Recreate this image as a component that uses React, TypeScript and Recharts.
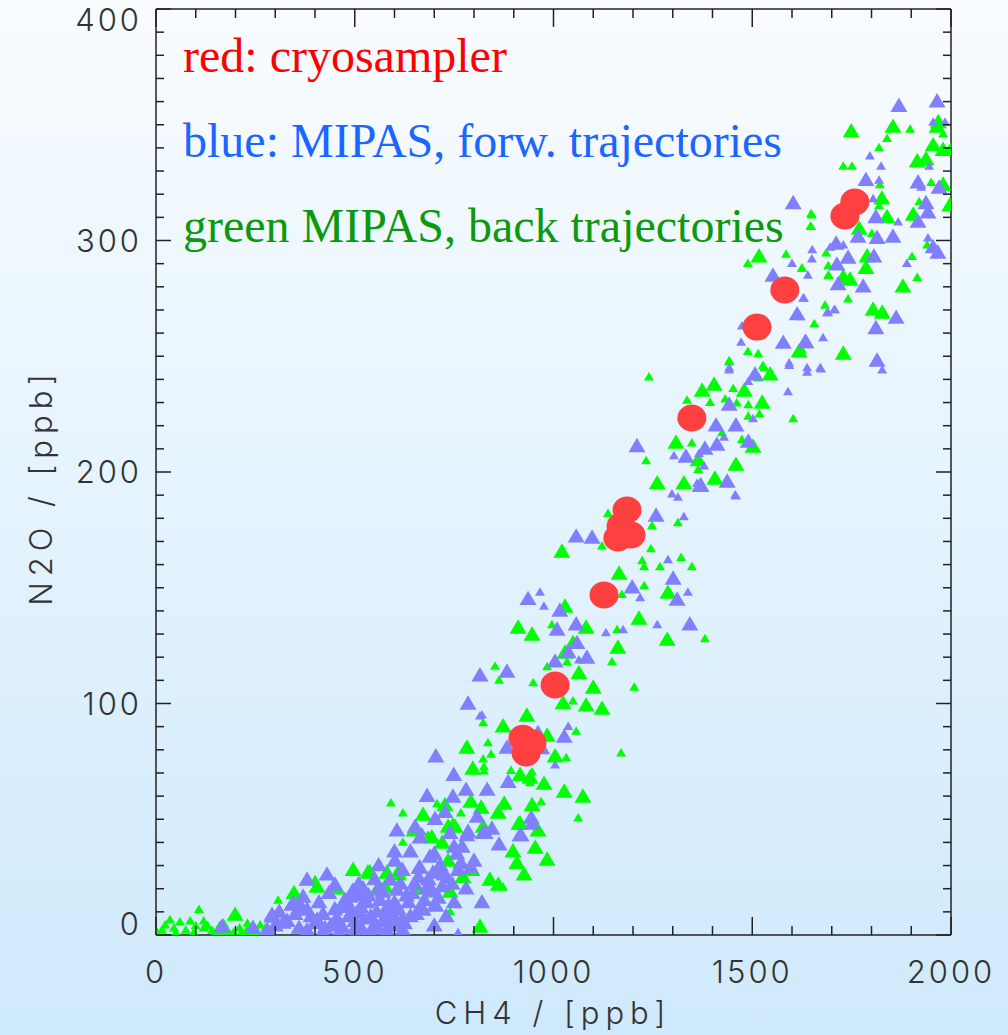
import React from 'react'
import { ScatterChart, Scatter, XAxis, YAxis } from 'recharts'

// CH4 (ppb), N2O (ppb) pairs
const cryosampler: [number, number][] = [
  [1758, 316.6], [1733, 310.6], [1582, 278.6], [1512, 262.6], [1348, 223.3],
  [1185, 183.6], [1170, 176.7], [1195, 172.8], [1162, 171.5], [1127, 146.9],
  [1004, 108], [923, 85], [946, 83], [931, 78.6],
]

const blueLarge: [number, number][] = [
  [1869, 358], [1965, 360], [1786, 326], [1917, 325], [1970, 322.7], [1937, 316], [1942, 312],
  [1811, 310], [1917, 308], [1766, 301.5], [1814, 301], [1854, 301.5], [1711, 298.5], [1741, 292.5],
  [1806, 293], [1955, 297], [1967, 294.6], [1713, 289.5], [1779, 280], [1716, 281], [1862, 266.5],
  [1811, 262], [1635, 256], [1814, 248],
  [1603, 316], [1552, 284.7], [1613, 268], [1633, 256], [1578, 255.7],
  [1507, 242], [1442, 229], [1409, 220], [1459, 220], [1490, 213], [1210, 211], [1411, 211.7],
  [1381, 210], [1333, 206.5], [1371, 194], [1437, 195.7],
  [1057, 172], [1097, 171.5], [1258, 181], [1369, 194], [1301, 153.8], [1311, 144.7], [1198, 150],
  [936, 145], [1016, 140], [1057, 134], [1009, 131.8], [1343, 134], [1037, 122], [1059, 126],
  [1084, 119.7], [1004, 118], [883, 113.6], [1027, 85.5], [883, 80.8],
  [815, 112], [785, 99.8], [704, 77], [749, 69], [886, 66], [833, 62.6], [780, 62.6], [682, 60],
  [747, 59.6], [702, 50], [727, 53], [606, 45], [808, 51], [845, 45.8], [944, 50.5], [916, 43],
  [828, 44], [782, 43],
  [652, 46.7], [664, 42], [740, 44], [785, 44.5], [823, 44], [918, 43], [946, 48], [863, 39],
  [689, 33.7], [601, 32], [757, 35], [767, 31], [792, 29], [662, 29], [709, 28], [732, 24.6],
  [430, 26], [450, 21.6], [380, 23.8], [342, 13], [292, 8.6], [370, 16.4], [488, 12], [513, 17],
  [564, 15], [606, 19.4], [619, 6.5], [664, 11.7], [704, 12.5], [820, 14], [576, 7.3], [244, 3],
  [345, 13.8], [292, 7.8], [166, 3.5], [380, 10.8], [488, 16.4], [521, 20], [571, 18.6], [664, 29],
  [697, 26.8], [672, 10.8], [702, 13], [606, 5.6], [621, 2], [589, 23.8], [405, 6.5], [455, 7.3],
  [320, 5.2], [556, 3.5], [506, 9.5],
  [400, 5], [420, 9], [440, 4], [470, 12], [500, 6], [530, 14], [540, 8], [580, 11], [600, 14],
  [630, 17], [650, 22], [680, 20], [720, 21], [470, 3], [520, 2], [590, 4], [640, 8], [360, 3],
  [280, 2], [510, 22], [550, 24], [620, 28], [700, 35], [750, 38],
  [300, 4], [310, 10], [330, 6], [350, 9], [365, 12], [390, 8], [410, 14], [425, 3], [435, 18],
  [450, 11], [460, 5], [475, 15], [485, 8], [495, 19], [505, 4], [515, 12], [525, 7], [535, 17],
  [545, 3], [555, 10], [560, 20], [570, 6], [585, 13], [595, 9], [610, 11], [615, 22], [625, 5],
  [635, 14], [645, 18], [655, 9], [660, 25], [675, 15], [685, 24], [695, 19], [710, 16], [715, 30],
  [725, 26], [745, 22], [760, 28], [770, 38], [380, 2], [420, 1], [460, 1], [500, 1], [540, 1],
  [580, 2], [700, 4], [730, 8], [750, 14], [780, 20], [800, 32], [640, 36], [600, 36], [560, 30],
]

const blueSmall: [number, number][] = [
  [1955, 351], [1985, 351], [1796, 336.5], [1824, 332], [1945, 332], [1819, 326], [1925, 323],
  [1804, 318], [1867, 308], [1729, 298], [1942, 301], [1651, 296], [1650, 292], [1889, 290],
  [1640, 285], [1691, 268.7], [1706, 270], [1630, 275], [1620, 267], [1678, 258], [1827, 244],
  [1638, 243], [1673, 244.5],
  [1696, 297], [1600, 290], [1628, 275], [1688, 268.7], [1708, 270], [1474, 263], [1472, 256],
  [1593, 247], [1638, 245], [1671, 245], [1442, 245],
  [1442, 244], [1490, 239], [1593, 246], [1590, 234.6], [1502, 223], [1429, 215], [1303, 207],
  [1366, 208], [1379, 202.6], [1361, 195], [1298, 190.5], [1313, 189], [1459, 189.6],
  [1457, 190], [1328, 180.6], [1288, 162], [1338, 148], [1218, 145.6], [966, 148], [976, 142],
  [1132, 130.5], [1175, 131.8], [1261, 134], [1064, 118.8], [820, 111.5], [1037, 90], [961, 88.6],
  [979, 79.5], [1004, 73.4], [820, 95],
  [815, 94.6], [669, 44.5], [760, 1],
]

const greenLarge: [number, number][] = [
  [1749, 347], [1854, 349], [1965, 349], [1968, 351], [1980, 339], [1915, 334], [1937, 335],
  [1826, 318], [1839, 310], [1905, 311], [1769, 305], [1789, 293], [1786, 288], [1746, 283],
  [1729, 284], [1879, 280], [1804, 270], [1827, 268.7], [1729, 251], [1955, 341], [1980, 324],
  [1997, 315], [2000, 339],
  [1517, 293], [1618, 252],
  [1404, 237.6], [1374, 235], [1480, 235], [1525, 229.8], [1545, 242], [1308, 212.5], [1502, 210.8],
  [1459, 203], [1364, 205], [1261, 195], [1328, 195], [1406, 197],
  [1021, 165.5], [1165, 156], [1288, 147.7], [1215, 136.5], [1286, 127.4], [1029, 141.7],
  [946, 129.6], [911, 132.6], [1082, 132.6], [1162, 124], [1049, 126], [1029, 121.8], [1064, 113],
  [1024, 100], [1100, 106.7], [1122, 97.6], [1082, 99], [933, 94.6], [873, 90], [984, 86],
  [1004, 77], [941, 67.8], [916, 69],
  [782, 80.8], [797, 71.7], [976, 65.2], [1027, 61.8], [1074, 59.6], [946, 56], [876, 56.6],
  [861, 52.7], [818, 54.9], [792, 57.5], [727, 56], [672, 51.8], [649, 45], [752, 46.7],
  [823, 46.7], [916, 48],
  [913, 48], [961, 45], [954, 37.6], [898, 36], [908, 31], [926, 26], [984, 32.4], [861, 21.6],
  [840, 23.8], [772, 25], [795, 28], [735, 32], [694, 42], [720, 39.7], [735, 46.7], [538, 27],
  [496, 28], [581, 26.8], [609, 26.8], [689, 18.6], [740, 18.6], [657, 20], [556, 19.4],
  [405, 20.7], [455, 20], [815, 3.5],
  [199, 8.6], [347, 18], [533, 26.8], [576, 20.7], [609, 26], [170, 1], [230, 1],
]

const greenSmall: [number, number][] = [
  [1897, 348], [1839, 344], [1980, 346], [1819, 340], [1729, 332], [1751, 332], [1821, 324],
  [1950, 325], [1819, 315], [1920, 316.7], [1801, 303], [1650, 311], [1648, 306], [1686, 294.6],
  [1691, 285], [1915, 284], [1741, 274.7], [1683, 272], [1656, 264], [1625, 252.7], [1902, 293],
  [1940, 298], [1625, 288],
  [1648, 311.5], [1646, 306], [1489, 290], [1585, 294], [1625, 288], [1691, 289], [1693, 284.7],
  [1489, 252], [1515, 251], [1442, 248], [1530, 245],
  [1442, 247.5], [1527, 246], [1515, 240.6], [1240, 241], [1452, 236], [1336, 231], [1394, 230],
  [1432, 231.5], [1461, 229.8], [1490, 229], [1518, 225], [1490, 224], [1603, 223], [1348, 212.5],
  [1424, 216.9], [1474, 214], [1233, 204.8], [1364, 201],
  [1313, 178], [1348, 159], [1381, 127.9],
  [1137, 182], [1248, 176.7], [1122, 168], [1245, 166.8], [1223, 161.6], [1228, 159], [1268, 159],
  [1321, 163], [1228, 150.8], [1172, 147], [1193, 150], [1160, 131.8], [1147, 118], [1034, 118],
  [984, 115.8], [949, 108.9], [853, 116], [863, 110], [1049, 101], [1203, 107], [823, 91.6],
  [835, 83], [843, 78], [1057, 88], [1032, 76.5], [1170, 78.6], [893, 71], [825, 72.6], [996, 134],
  [823, 76], [825, 70.8], [946, 70.4], [941, 65.7], [1062, 50.5], [969, 57.5], [767, 52.7],
  [747, 48.8], [707, 56.6], [621, 52.7], [591, 57], [684, 43], [961, 45],
  [621, 40], [350, 15], [307, 15], [375, 23], [740, 10], [873, 20.7],
  [108, 11], [400, 23.8], [35, 6.5], [60, 5.6], [86, 6], [23, 4.3], [141, 2], [262, 4.3], [3, 1.3],
  [45, 3], [75, 2], [100, 4], [120, 3], [160, 4], [180, 2], [210, 3], [230, 5], [120, 6],
  [15, 2], [50, 1], [95, 1], [130, 4], [150, 1], [170, 5], [195, 1], [215, 1], [240, 2], [255, 1],
  [275, 3], [290, 1],
]

const xTicks = Array.from({ length: 21 }, (_, i) => i * 100)
const yTicks = Array.from({ length: 41 }, (_, i) => i * 10)

const toPoints = (arr: [number, number][]) => arr.map(([x, y]) => ({ x, y }))

const tickFont = { fontFamily: 'Inter, "DejaVu Sans", sans-serif', fontWeight: 300, fontSize: 31, letterSpacing: 3, fill: '#333' }
const titleFont = { ...tickFont, letterSpacing: 6 }
const INK = '#222'

function Triangle({ cx, cy, w, fill }: any) {
  if (cx == null || cy == null) return null
  const h = w * 0.85
  const pts = `${cx},${cy - h * 0.6} ${cx - w / 2},${cy + h * 0.4} ${cx + w / 2},${cy + h * 0.4}`
  return <polygon points={pts} fill={fill} />
}

function Blob({ cx, cy }: any) {
  if (cx == null || cy == null) return null
  return <ellipse cx={cx} cy={cy} rx={14.5} ry={13.5} fill="#ff4040" />
}

function BottomTick({ x, y, payload }: any) {
  const major = payload.value % 500 === 0
  return (
    <g>
      <line x1={x} y1={y} x2={x} y2={y - (major ? 18 : 9)} stroke={INK} strokeWidth={1.5} />
      {major && (
        <text x={x} y={y + 48} textAnchor="middle" {...tickFont}>{payload.value}</text>
      )}
    </g>
  )
}

function TopTick({ x, y, payload }: any) {
  const major = payload.value % 500 === 0
  return <line x1={x} y1={y} x2={x} y2={y + (major ? 18 : 9)} stroke={INK} strokeWidth={1.5} />
}

function LeftTick({ x, y, payload }: any) {
  const major = payload.value % 100 === 0
  // keep the end labels inside the frame's height
  const shift = payload.value === 400 ? 22 : payload.value === 0 ? 0 : 11
  return (
    <g>
      <line x1={x} y1={y} x2={x + (major ? 15 : 8)} y2={y} stroke={INK} strokeWidth={1.5} />
      {major && (
        <text x={x - 14} y={y + shift} textAnchor="end" {...tickFont}>{payload.value}</text>
      )}
    </g>
  )
}

function RightTick({ x, y, payload }: any) {
  const major = payload.value % 100 === 0
  return <line x1={x} y1={y} x2={x - (major ? 15 : 8)} y2={y} stroke={INK} strokeWidth={1.5} />
}

const axisLine = { stroke: INK, strokeWidth: 1.5 }

export default function App() {
  return (
    <div
      style={{
        position: 'absolute', left: 0, top: 0, width: 1008, height: 1035,
        background: 'linear-gradient(to bottom, #f9fcff 0%, #e6f4fe 45%, #cfe9fc 100%)',
      }}
    >
      <ScatterChart width={1008} height={1035} margin={{ top: 8, right: 56, left: 0, bottom: 0 }}>
        <XAxis xAxisId="b" dataKey="x" type="number" domain={[0, 2000]} ticks={xTicks} interval={0}
          orientation="bottom" height={100} tickSize={0} tickMargin={0} tickLine={false}
          axisLine={axisLine} tick={<BottomTick />} allowDataOverflow />
        <XAxis xAxisId="t" dataKey="x" type="number" domain={[0, 2000]} ticks={xTicks} interval={0}
          orientation="top" height={1} tickSize={0} tickMargin={0} tickLine={false}
          axisLine={axisLine} tick={<TopTick />} allowDataOverflow />
        <YAxis yAxisId="l" dataKey="y" type="number" domain={[0, 400]} ticks={yTicks} interval={0}
          orientation="left" width={156} tickSize={0} tickMargin={0} tickLine={false}
          axisLine={axisLine} tick={<LeftTick />} allowDataOverflow />
        <YAxis yAxisId="r" dataKey="y" type="number" domain={[0, 400]} ticks={yTicks} interval={0}
          orientation="right" width={1} tickSize={0} tickMargin={0} tickLine={false}
          axisLine={axisLine} tick={<RightTick />} allowDataOverflow />

        <Scatter xAxisId="b" yAxisId="l" data={toPoints(greenSmall)} isAnimationActive={false}
          shape={(p: any) => <Triangle cx={p.cx} cy={p.cy} w={10} fill="#00ff00" />} />
        <Scatter xAxisId="b" yAxisId="l" data={toPoints(greenLarge)} isAnimationActive={false}
          shape={(p: any) => <Triangle cx={p.cx} cy={p.cy} w={17} fill="#00ff00" />} />
        <Scatter xAxisId="b" yAxisId="l" data={toPoints(blueLarge)} isAnimationActive={false}
          shape={(p: any) => <Triangle cx={p.cx} cy={p.cy} w={17} fill="#8080ff" />} />
        <Scatter xAxisId="b" yAxisId="l" data={toPoints(blueSmall)} isAnimationActive={false}
          shape={(p: any) => <Triangle cx={p.cx} cy={p.cy} w={10} fill="#8080ff" />} />
        <Scatter xAxisId="b" yAxisId="l" data={toPoints(cryosampler)} isAnimationActive={false}
          shape={(p: any) => <Blob cx={p.cx} cy={p.cy} />} />
        {/* binds the top/right frame axes so they get drawn; marks are not rendered */}
        <Scatter xAxisId="t" yAxisId="r" data={toPoints(cryosampler)} isAnimationActive={false}
          shape={() => <g />} />
      </ScatterChart>

      <svg width={1008} height={1035} style={{ position: 'absolute', left: 0, top: 0, pointerEvents: 'none' }}>
        <g fontFamily='"Liberation Serif", "Times New Roman", serif' fontSize={48}>
          <text x={183} y={72} fill="#ff0000">red: cryosampler</text>
          <text x={183} y={157} fill="#1a66ff">blue: MIPAS, forw. trajectories</text>
          <text x={183} y={242} fill="#0c990c">green MIPAS, back trajectories</text>
        </g>
        <text x={553} y={1024} textAnchor="middle" {...titleFont}>CH4 / [ppb]</text>
        <text transform="translate(52,487) rotate(-90)" textAnchor="middle" {...titleFont}>N2O / [ppb]</text>
      </svg>
    </div>
  )
}
